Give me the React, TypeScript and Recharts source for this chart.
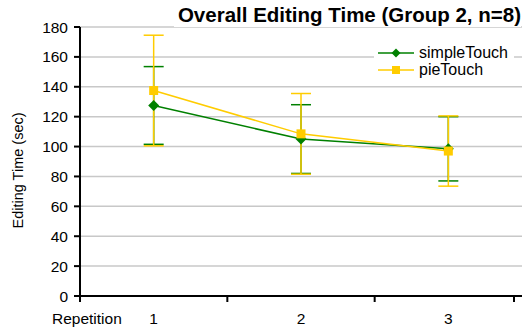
import { LineChart, Line, XAxis, YAxis, CartesianGrid, ErrorBar } from "recharts";

const repetitions = ["1", "2", "3"];
const simpleTouchMean = [127.5, 105, 98.5];
const simpleTouchSd = [26, 23, 21.5];
const pieTouchMean = [137.5, 108.5, 97];
const pieTouchSd = [37, 27, 23.5];
const yTicks = [0, 20, 40, 60, 80, 100, 120, 140, 160, 180];

const GREEN = "#008000";
const YELLOW = "#FFCC00";
const FONT = "'Liberation Sans', Arial, sans-serif";

const data = repetitions.map((r, i) => ({
  x: i + 1,
  label: r,
  simpleTouch: simpleTouchMean[i],
  simpleErr: simpleTouchSd[i],
  pieTouch: pieTouchMean[i],
  pieErr: pieTouchSd[i],
}));

// recharts passes its own `r` to dots, so marker size uses a separate prop
const Diamond = ({ cx, cy, half = 5.5 }: any) => {
  if (cx == null || cy == null) return null;
  return (
    <path
      d={`M${cx},${cy - half}L${cx + half},${cy}L${cx},${cy + half}L${cx - half},${cy}Z`}
      fill={GREEN}
    />
  );
};

const Square = ({ cx, cy, side = 9 }: any) => {
  if (cx == null || cy == null) return null;
  return <rect x={cx - side / 2} y={cy - side / 2} width={side} height={side} fill={YELLOW} />;
};

// category labels sit at whole numbers, tick marks at the boundaries between them
const XTick = ({ x, y, payload }: any) => {
  const v = payload.value;
  if (Number.isInteger(v)) {
    return (
      <text x={x} y={y + 28} textAnchor="middle" fontSize={15.5} fontFamily={FONT} fill="#000">
        {repetitions[v - 1]}
      </text>
    );
  }
  return (
    <g>
      <line x1={x} y1={y} x2={x} y2={y + 6} stroke="#000" strokeWidth={2} />
      {v === 0.5 && (
        <text x={x - 28} y={y + 28} textAnchor="start" fontSize={15.5} fontFamily={FONT} fill="#000">
          Repetition
        </text>
      )}
    </g>
  );
};

const legendItems = [
  { name: "simpleTouch", color: GREEN, marker: <Diamond cx={18} cy={8} half={4.5} /> },
  { name: "pieTouch", color: YELLOW, marker: <Square cx={18} cy={8} side={8} /> },
];

export default function App() {
  return (
    <div style={{ position: "absolute", left: 0, top: 0, width: 524, height: 329, background: "#fff" }}>
      <LineChart width={524} height={329} data={data} margin={{ top: 27, right: 2, left: 0, bottom: 0 }}>
        <CartesianGrid vertical={false} stroke="#c8c8c8" strokeWidth={1.5} />
        <XAxis
          dataKey="x"
          type="number"
          domain={[0.5, 3.5]}
          ticks={[0.5, 1, 1.5, 2, 2.5, 3, 3.5]}
          height={33}
          tickLine={false}
          tickSize={0}
          tickMargin={0}
          axisLine={{ stroke: "#000", strokeWidth: 2 }}
          tick={<XTick />}
        />
        <YAxis
          domain={[0, 180]}
          ticks={yTicks}
          width={80}
          tickSize={6}
          tickMargin={6}
          axisLine={{ stroke: "#000", strokeWidth: 2 }}
          tickLine={{ stroke: "#000", strokeWidth: 2 }}
          tick={{ fill: "#000", fontSize: 15.5, fontFamily: FONT }}
          label={{
            value: "Editing Time (sec)",
            angle: -90,
            position: "center",
            dx: -22,
            dy: 9,
            fill: "#000",
            fontSize: 14.5,
            fontFamily: FONT,
          }}
        />
        <Line
          dataKey="simpleTouch"
          stroke={GREEN}
          strokeWidth={1.5}
          dot={<Diamond />}
          activeDot={false}
          isAnimationActive={false}
        >
          <ErrorBar dataKey="simpleErr" width={10} stroke={GREEN} strokeWidth={1.5} isAnimationActive={false} />
        </Line>
        <Line
          dataKey="pieTouch"
          stroke={YELLOW}
          strokeWidth={1.5}
          dot={<Square />}
          activeDot={false}
          isAnimationActive={false}
        >
          <ErrorBar dataKey="pieErr" width={10} stroke={YELLOW} strokeWidth={1.5} isAnimationActive={false} />
        </Line>
      </LineChart>
      <div
        style={{
          position: "absolute",
          left: 374,
          top: 43,
          background: "#fff",
          fontFamily: FONT,
          fontSize: 16,
          padding: "1px 6px 2px 4px",
        }}
      >
        {legendItems.map((item) => (
          <div key={item.name} style={{ display: "flex", alignItems: "center", height: 17 }}>
            <svg width={36} height={16} style={{ marginRight: 5 }}>
              <line x1={0} y1={8} x2={36} y2={8} stroke={item.color} strokeWidth={1.5} />
              {item.marker}
            </svg>
            <span style={{ lineHeight: "16px" }}>{item.name}</span>
          </div>
        ))}
      </div>
      <div
        style={{
          position: "absolute",
          right: 3,
          top: 3,
          background: "#fff",
          fontFamily: FONT,
          fontWeight: "bold",
          fontSize: 20.5,
          lineHeight: "24px",
          padding: "0 0 0 4px",
        }}
      >
        Overall Editing Time (Group 2, n=8)
      </div>
    </div>
  );
}
